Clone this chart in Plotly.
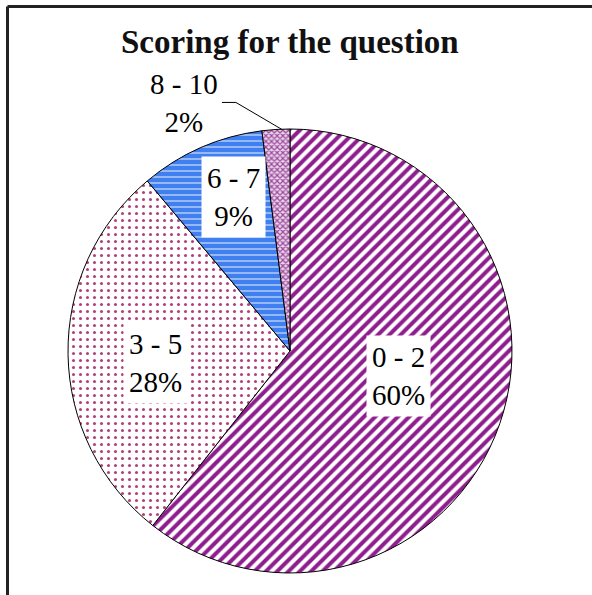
import math
import plotly.graph_objects as go

# ---- data ----
categories = ["0 - 2", "3 - 5", "6 - 7", "8 - 10"]
percents = [60, 28, 9, 2]
title_text = "Scoring for the question"

# ---- styles ----
W, H = 592, 595
CX, CY, R = 290, 351, 222  # pie centre / radius in pixels
shapes_pat = ["/", ".", "-", "x"]
fg = ["#8E1E8E", "#B0407C", "#FFFFFF", "#9A4A9A"]
bg = ["#FFFFFF", "#FFFFFF", "#3F7FEF", "#EBD3EB"]
sizes = [8, 7, 6, 4]
solid = [0.5, 0.15, 0.15, 0.5]
label_r = [0.504, 0.61, 0.74]      # radial fraction for inside labels
label_dang = [-6, -4, 3.4]         # angle tweak (degrees) for inside labels
FONT = "Liberation Serif"
LABEL_SIZE = 29

fig = go.Figure(go.Pie(
    labels=categories,
    values=percents,
    sort=False,
    direction="clockwise",
    rotation=0,
    textinfo="none",
    hole=0,
    marker=dict(
        colors=bg,
        line=dict(color="#000000", width=1),
        pattern=dict(shape=shapes_pat, fgcolor=fg, bgcolor=bg,
                     size=sizes, solidity=solid, fillmode="replace"),
    ),
    domain=dict(x=[(CX - R) / W, (CX + R) / W],
                y=[1 - (CY + R) / H, 1 - (CY - R) / H]),
    showlegend=False,
))

def px2paper(x, y):
    return x / W, 1 - y / H

total = sum(percents)
annotations = []
shapes = []
start = 0.0
for i, (cat, v) in enumerate(zip(categories, percents)):
    frac = v / total
    mid = (start + frac / 2) * 2 * math.pi
    start += frac
    if i < len(label_r):
        ang = mid + math.radians(label_dang[i])
        rr = label_r[i] * R
        x = CX + rr * math.sin(ang)
        y = CY - rr * math.cos(ang)
        px, py = px2paper(x, y)
        annotations.append(dict(
            x=px, y=py, xref="paper", yref="paper", showarrow=False,
            xanchor="center", yanchor="middle",
            text=f"{cat}<br>{v}%", align="center",
            font=dict(family=FONT, size=LABEL_SIZE, color="#000"),
            bgcolor="#FFFFFF", borderpad=5,
        ))
    else:
        ex = CX + R * math.sin(mid) + 6
        ey = CY - R * math.cos(mid)
        elx, ely = ex - 46, ey - 27
        lx, ly = elx - 14, ely
        p = [px2paper(ex, ey), px2paper(elx, ely), px2paper(lx, ly)]
        shapes.append(dict(
            type="path", xref="paper", yref="paper",
            path=f"M {p[0][0]} {p[0][1]} L {p[1][0]} {p[1][1]} L {p[2][0]} {p[2][1]}",
            line=dict(color="#000", width=1),
        ))
        tx, ty = px2paper(lx - 38, ly + 1)
        annotations.append(dict(
            x=tx, y=ty, xref="paper", yref="paper", showarrow=False,
            xanchor="center", yanchor="middle",
            text=f"{cat}<br>{v}%", align="center",
            font=dict(family=FONT, size=LABEL_SIZE, color="#000"),
            bgcolor="rgba(255,255,255,0)",
        ))

# title
tx, ty = px2paper(290, 42)
annotations.append(dict(
    x=tx, y=ty, xref="paper", yref="paper", showarrow=False,
    xanchor="center", yanchor="middle",
    text=f"<b>{title_text}</b>",
    font=dict(family=FONT, size=33, color="#111"),
))

# frame lines (top and left)
shapes.append(dict(type="line", xref="paper", yref="paper",
                   x0=7.5 / W, y0=1 - 6.5 / H, x1=1, y1=1 - 6.5 / H,
                   line=dict(color="#222", width=3)))
shapes.append(dict(type="line", xref="paper", yref="paper",
                   x0=7.5 / W, y0=1 - 6.5 / H, x1=7.5 / W, y1=0,
                   line=dict(color="#222", width=3)))

fig.update_layout(
    width=W, height=H,
    margin=dict(l=0, r=0, t=0, b=0),
    paper_bgcolor="#FFFFFF",
    plot_bgcolor="#FFFFFF",
    annotations=annotations,
    shapes=shapes,
)

fig.write_html("out.html", config={"displayModeBar": False},
               post_script="document.body.style.margin='0px';document.body.style.overflow='hidden';")
